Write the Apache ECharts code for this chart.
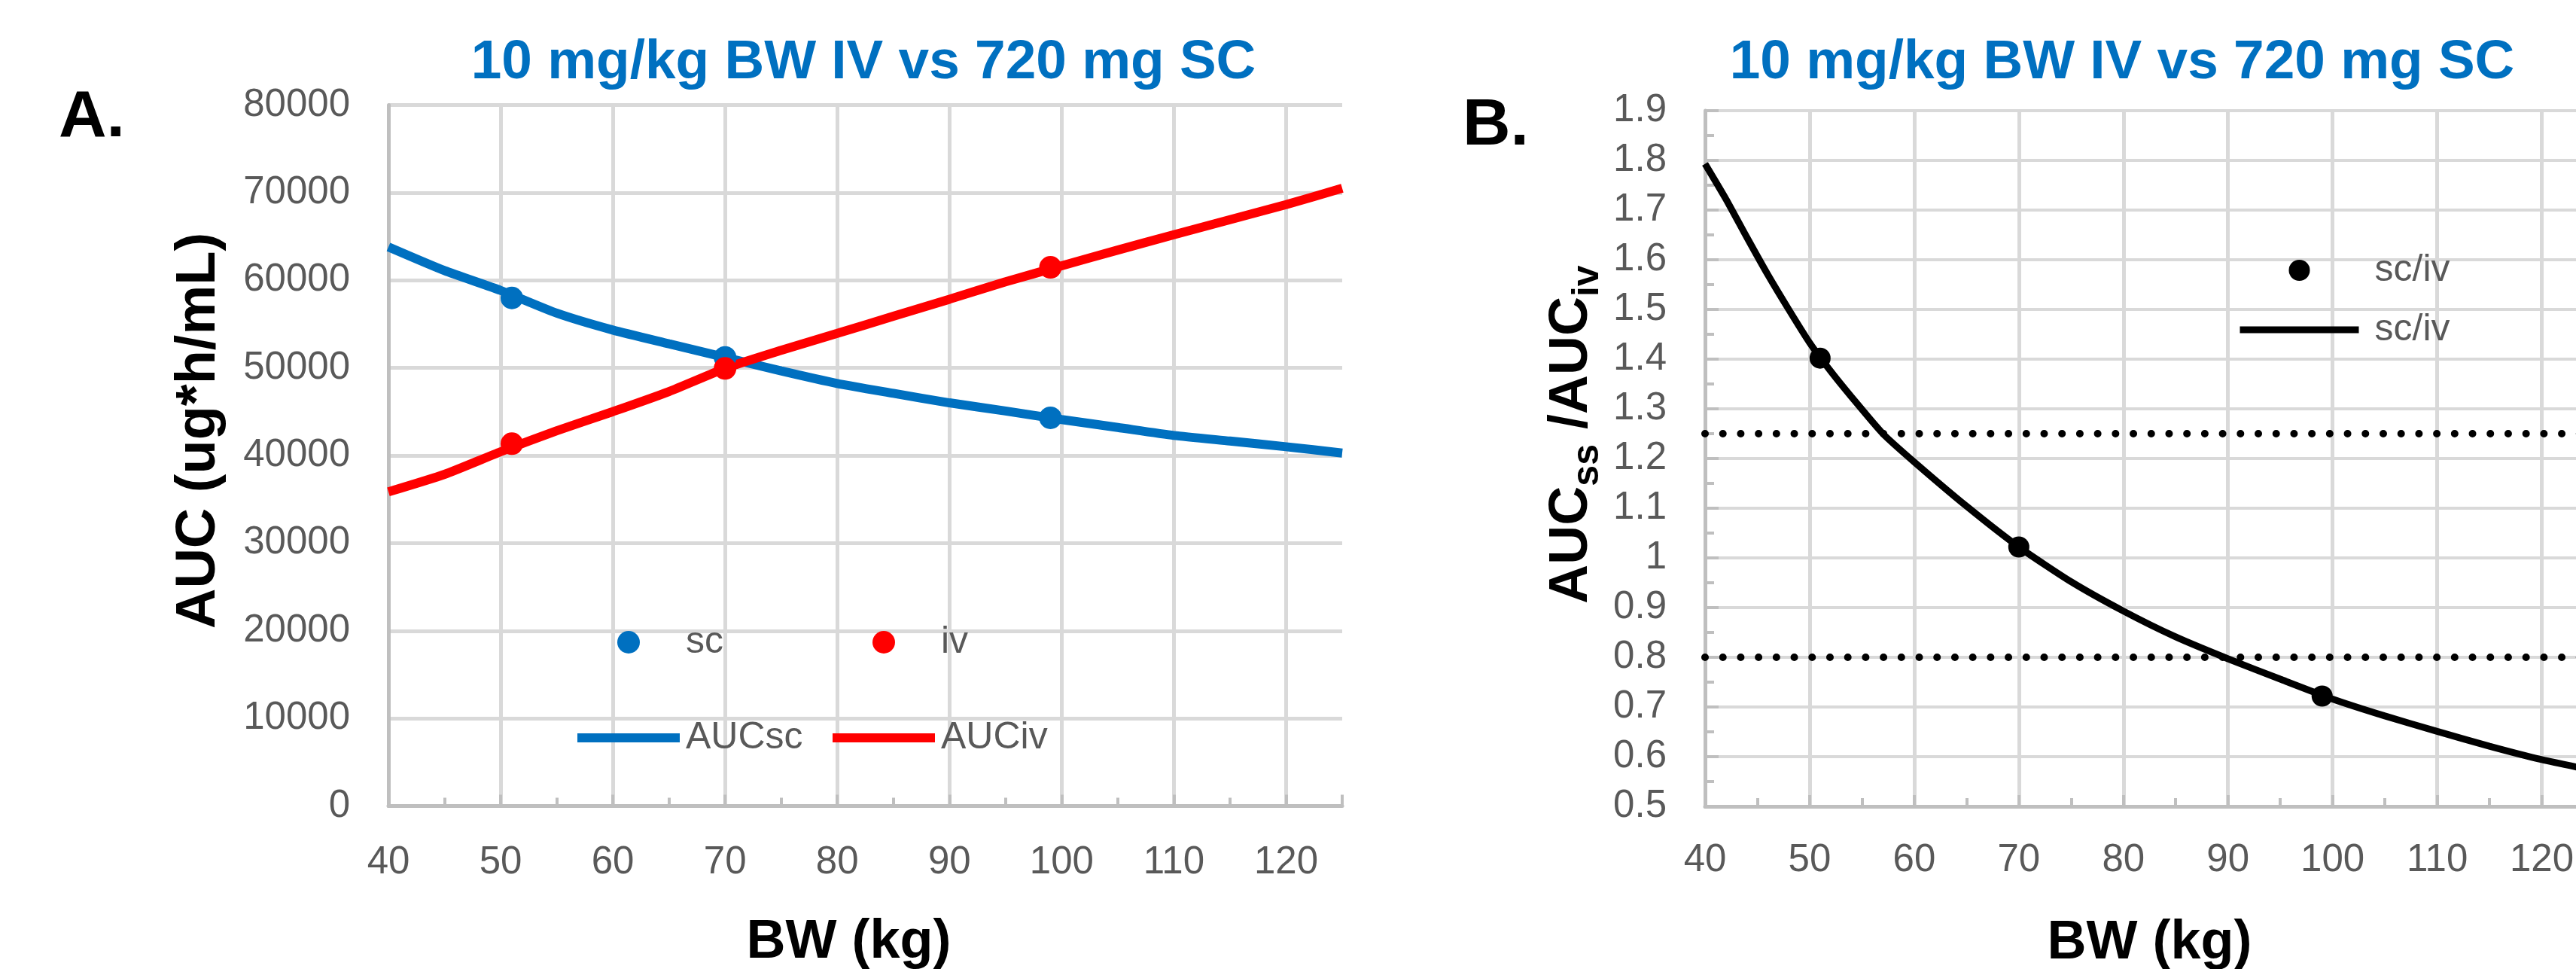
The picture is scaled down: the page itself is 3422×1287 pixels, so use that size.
<!DOCTYPE html>
<html>
<head>
<meta charset="utf-8">
<title>AUC vs body weight</title>
<script src="https://cdn.jsdelivr.net/npm/echarts@6/dist/echarts.min.js"></script>
<style>
html, body { margin: 0; padding: 0; background: #fff; }
#main { width: 3422px; height: 1287px; }
</style>
</head>
<body>
<div id="main"></div>
<script>
// --- data ---
// panel A: AUC curves (ug*h/mL) vs body weight (kg)
const bwCurveA = [40, 45, 50, 55, 60, 65, 70, 75, 80, 85, 90, 95, 100, 105, 110, 115, 120, 125];
const aucScCurve = [63800, 61100, 58840, 56250, 54320, 52750, 51200, 49650, 48220, 47100, 46010, 45080, 44100, 43200, 42290, 41650, 41000, 40280];
const aucIvCurve = [35850, 37850, 40430, 42820, 45010, 47300, 49940, 52000, 53940, 55890, 57840, 59820, 61650, 63450, 65200, 66920, 68640, 70500];
// the three highlighted body weights
const bwPoints = [51, 70, 99];
const aucScPoints = [57980, 51200, 44300];
const aucIvPoints = [41350, 49940, 61480];
// panel B: ratio AUCss/AUCiv
const bwCurveB = [40, 42, 44, 46, 48, 50, 52, 54, 57, 60, 65, 70, 75, 80, 85, 90, 95, 100, 105, 110, 115, 120, 125];
const ratioCurve = [1.793, 1.722, 1.645, 1.570, 1.500, 1.433, 1.376, 1.324, 1.250, 1.193, 1.104, 1.022, 0.952, 0.893, 0.841, 0.797, 0.756, 0.716, 0.682, 0.651, 0.621, 0.594, 0.572];
const ratioPoints = [1.402, 1.022, 0.722];
const refLines = [1.25, 0.8];
// axis ranges [min, max, step]
const bwRange = [40, 125, 10];
const aucRange = [0, 80000, 10000];
const ratioRange = [0.5, 1.9, 0.1];

const titleText = '10 mg/kg BW IV vs 720 mg SC';

const PLAIN = "'Liberation Sans', Arial, sans-serif";
const BLUE = '#0070C0';
const RED = '#FF0000';
const GRID = '#d9d9d9';
const AXIS = '#bfbfbf';
const LABEL = '#595959';

const pairs = (xs, ys) => xs.map((x, i) => [x, ys[i]]);

let mychart = echarts.init(document.getElementById('main'));

const xAxisBase = (gridIndex, margin, nameShift) => ({
    type: 'value',
    gridIndex: gridIndex,
    min: bwRange[0],
    max: bwRange[1],
    interval: bwRange[2],
    axisLine: { show: true, onZero: false, lineStyle: { color: AXIS, width: 5 } },
    axisTick: { show: true, inside: true, length: 15, lineStyle: { color: AXIS, width: 4 } },
    minorTick: { show: true, splitNumber: 2, length: 11, lineStyle: { color: AXIS, width: 4 } },
    axisLabel: { margin: margin, fontSize: 51, color: LABEL, fontFamily: PLAIN, showMaxLabel: false },
    splitLine: { show: true, showMaxLine: false, lineStyle: { color: GRID, width: 5 } },
    name: 'BW (kg)',
    nameLocation: 'middle',
    nameGap: 146,
    nameMoveOverlap: false,
    nameTextStyle: {
        fontSize: 72, fontWeight: 'bold', color: '#000', fontFamily: PLAIN,
        padding: [0, nameShift, 0, 0]
    }
});

// legend column helper (vertical list of items)
const legendCol = (items, left, top, w, h, gap, lineW, textPad) => ({
    data: items, selectedMode: false, orient: 'vertical',
    left: left, top: top, padding: 0,
    itemWidth: w, itemHeight: h, itemGap: gap,
    lineStyle: { width: lineW },
    textStyle: { fontSize: 50, color: LABEL, fontFamily: PLAIN, lineHeight: 60, padding: [0, 0, 0, textPad] }
});
const hideSymbol = { opacity: 0 };

var option = {
    animation: false,
    grid: [
        { left: 516, top: 139.5, width: 1267, height: 931, containLabel: false, outerBoundsMode: 'none' },
        { left: 2265, top: 147, width: 1181, height: 924, containLabel: false, outerBoundsMode: 'none' }
    ],
    xAxis: [
        xAxisBase(0, 50, 44),
        xAxisBase(1, 46, 0)
    ],
    yAxis: [
        {
            type: 'value', gridIndex: 0,
            min: aucRange[0], max: aucRange[1], interval: aucRange[2],
            axisLine: { show: true, onZero: false, lineStyle: { color: AXIS, width: 5 } },
            axisTick: { show: false },
            axisLabel: { margin: 51, fontSize: 51, color: LABEL, fontFamily: PLAIN, formatter: v => String(v) },
            splitLine: { show: true, lineStyle: { color: GRID, width: 5 } }
        },
        {
            type: 'value', gridIndex: 1,
            min: ratioRange[0], max: ratioRange[1], interval: ratioRange[2],
            axisLine: { show: true, onZero: false, lineStyle: { color: AXIS, width: 5 } },
            axisTick: { show: true, inside: true, length: 18, lineStyle: { color: AXIS, width: 4 } },
            minorTick: { show: true, splitNumber: 2, length: 12, lineStyle: { color: AXIS, width: 4 } },
            axisLabel: { margin: 51, fontSize: 51, color: LABEL, fontFamily: PLAIN },
            splitLine: { show: true, lineStyle: { color: GRID, width: 4 } }
        }
    ],
    legend: [
        legendCol(['sc', { name: 'AUCsc', itemStyle: hideSymbol }], 761, 823, 136, 30, 67, 12, 3),
        legendCol(['iv', { name: 'AUCiv', itemStyle: hideSymbol }], 1100, 823, 136, 30, 67, 12, 3),
        legendCol(['sc/iv', { name: 'sc/iv ', itemStyle: hideSymbol }], 2971, 329, 158, 28, 19, 9, 16)
    ],
    series: [
        {
            type: 'line', name: 'AUCsc', xAxisIndex: 0, yAxisIndex: 0,
            data: pairs(bwCurveA, aucScCurve),
            smooth: 0.2, showSymbol: false, symbol: 'none',
            lineStyle: { color: BLUE, width: 12 }, itemStyle: { color: BLUE }, z: 2
        },
        {
            type: 'line', name: 'AUCiv', xAxisIndex: 0, yAxisIndex: 0,
            data: pairs(bwCurveA, aucIvCurve),
            smooth: 0.2, showSymbol: false, symbol: 'none',
            lineStyle: { color: RED, width: 12 }, itemStyle: { color: RED }, z: 3
        },
        {
            type: 'scatter', name: 'sc', xAxisIndex: 0, yAxisIndex: 0,
            data: pairs(bwPoints, aucScPoints),
            symbol: 'circle', symbolSize: 30, itemStyle: { color: BLUE, opacity: 1 }, z: 4
        },
        {
            type: 'scatter', name: 'iv', xAxisIndex: 0, yAxisIndex: 0,
            data: pairs(bwPoints, aucIvPoints),
            symbol: 'circle', symbolSize: 30, itemStyle: { color: RED, opacity: 1 }, z: 4
        },
        {
            type: 'line', name: 'sc/iv ', xAxisIndex: 1, yAxisIndex: 1,
            data: pairs(bwCurveB, ratioCurve),
            smooth: 0.2, showSymbol: false, symbol: 'none',
            lineStyle: { color: '#000', width: 9 }, itemStyle: { color: '#000' }, z: 3,
            markLine: {
                silent: true,
                symbol: ['none', 'none'],
                label: { show: false },
                lineStyle: { color: '#000', width: 10, type: [0.01, 23.7], cap: 'round', opacity: 1 },
                emphasis: { disabled: true },
                data: refLines.map(v => ({ yAxis: v }))
            }
        },
        {
            type: 'scatter', name: 'sc/iv', xAxisIndex: 1, yAxisIndex: 1,
            data: pairs(bwPoints, ratioPoints),
            symbol: 'circle', symbolSize: 28, itemStyle: { color: '#000', opacity: 1 }, z: 4
        }
    ],
    graphic: [
        {
            type: 'text', x: 78, y: 157,
            style: { text: 'A.', fontSize: 88, fontWeight: 'bold', fontFamily: PLAIN, fill: '#000',
                align: 'left', verticalAlign: 'middle', textAlign: 'left', textVerticalAlign: 'middle' }
        },
        {
            type: 'text', x: 1943, y: 168,
            style: { text: 'B.', fontSize: 88, fontWeight: 'bold', fontFamily: PLAIN, fill: '#000',
                align: 'left', verticalAlign: 'middle', textAlign: 'left', textVerticalAlign: 'middle' }
        },
        {
            type: 'text', x: 1147, y: 84,
            style: { text: titleText, fontSize: 73, fontWeight: 'bold', fontFamily: PLAIN, fill: BLUE,
                align: 'center', verticalAlign: 'middle', textAlign: 'center', textVerticalAlign: 'middle' }
        },
        {
            type: 'text', x: 2819, y: 84,
            style: { text: titleText, fontSize: 73, fontWeight: 'bold', fontFamily: PLAIN, fill: BLUE,
                align: 'center', verticalAlign: 'middle', textAlign: 'center', textVerticalAlign: 'middle' }
        },
        {
            // y axis title, panel A
            type: 'text', x: 265, y: 572, rotation: Math.PI / 2,
            style: { text: 'AUC (ug*h/mL)', fontSize: 74, fontWeight: 'bold', fontFamily: PLAIN, fill: '#000',
                align: 'center', verticalAlign: 'middle', textAlign: 'center', textVerticalAlign: 'middle' }
        },
        {
            // y axis title, panel B (with subscripts)
            type: 'text', x: 2088, y: 577, rotation: Math.PI / 2,
            style: {
                text: '{m|AUC}{s|ss}{m| /AUC}{s|iv}',
                align: 'center', verticalAlign: 'middle', textAlign: 'center', textVerticalAlign: 'middle',
                rich: {
                    m: { fontSize: 72, fontWeight: 'bold', fontFamily: PLAIN, fill: '#000', lineHeight: 92 },
                    s: { fontSize: 50, fontWeight: 'bold', fontFamily: PLAIN, fill: '#000', lineHeight: 30, verticalAlign: 'bottom' }
                }
            }
        }
    ]
};

mychart.setOption(option);
</script>
</body>
</html>
